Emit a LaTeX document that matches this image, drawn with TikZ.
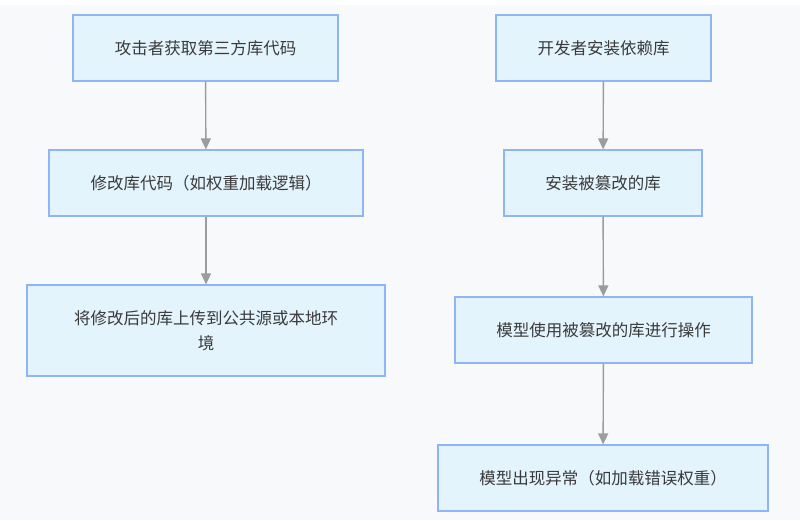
\documentclass[tikz,border=0pt]{standalone}
\usepackage{fontspec}
\newfontfamily\cjk{Noto Sans CJK SC}
\usepackage{xcolor}
\definecolor{bggray}{HTML}{F8F9FA}
\definecolor{boxfill}{HTML}{E3F4FD}
\definecolor{boxblue}{HTML}{8DB5F7}
\definecolor{arrowgray}{HTML}{9C9C9C}
\definecolor{textgray}{HTML}{3A3A3A}
\usetikzlibrary{positioning,arrows.meta}

\tikzset{
  stepbox/.style={draw=boxblue, fill=boxfill, line width=1.2pt, rectangle, inner sep=0pt,
    font=\cjk\fontsize{16.5}{25}\selectfont, text=textgray, align=center, minimum height=66pt},
  flow/.style={draw=arrowgray, line width=1.4pt, -{Triangle[length=11pt,width=10pt]}}
}

\begin{document}
\begin{tikzpicture}[x=1pt, y=-1pt]
				\useasboundingbox (0,0) rectangle (800,520);
				\fill[bggray] (0,5) rectangle (800,520);
				% attacker side
				\node[stepbox, minimum width=265pt] (fetch) at (205.5,48) {攻击者获取第三方库代码};
				\node[stepbox, minimum width=314pt] (modify) at (206,183) {修改库代码（如权重加载逻辑）};
				\node[stepbox, minimum width=358pt, minimum height=91pt] (upload) at (206,330.5) {将修改后的库上传到公共源或本地环\\境};
				% developer side
				\node[stepbox, minimum width=215pt] (devinstall) at (603.5,48) {开发者安装依赖库};
				\node[stepbox, minimum width=198pt] (badlib) at (603,183) {安装被篡改的库};
				\node[stepbox, minimum width=297pt] (usage) at (603.5,330) {模型使用被篡改的库进行操作};
				\node[stepbox, minimum width=330pt] (failure) at (603,478) {模型出现异常（如加载错误权重）};
				\draw[flow] (fetch) -- (modify);
				\draw[flow] (modify) -- (upload);
				\draw[flow] (devinstall) -- (badlib);
				\draw[flow] (badlib) -- (usage);
				\draw[flow] (usage) -- (failure);
			\end{tikzpicture}
\end{document}
